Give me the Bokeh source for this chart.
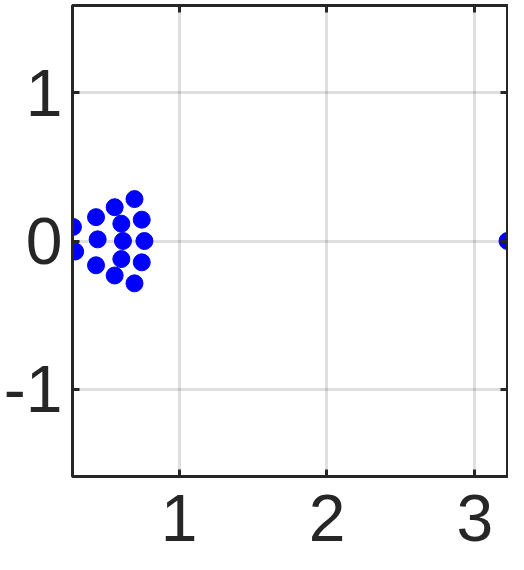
from bokeh.plotting import figure
from bokeh.models import ColumnDataSource, FixedTicker, LinearAxis, Range1d
from bokeh.embed import file_html
from bokeh.resources import INLINE

# eigenvalue-like points (real, imaginary)
re_vals = [0.283, 0.298, 0.439, 0.450, 0.439, 0.565, 0.610, 0.621, 0.610, 0.565,
           0.699, 0.748, 0.766, 0.748, 0.699, 3.22]
im_vals = [0.095, -0.071, 0.161, 0.011, -0.164, 0.228, 0.117, 0.0, -0.122, -0.233,
           0.283, 0.144, 0.0, -0.144, -0.286, 0.0]

x_ticks = [1, 2, 3]
y_ticks = [-1, 0, 1]
x_limits = (0.28, 3.22)
y_limits = (-1.59, 1.59)

AX = "#262626"
FONT = "Liberation Sans"
FS = "66px"

src = ColumnDataSource(dict(x=re_vals, y=im_vals))

p = figure(width=508, height=554, output_backend="svg", toolbar_location=None,
           x_range=Range1d(*x_limits), y_range=Range1d(*y_limits))
p.min_border_left = 0
p.min_border_right = 1
p.min_border_top = 5
p.min_border_bottom = 78
p.background_fill_color = "white"
p.border_fill_color = "white"
p.outline_line_color = AX
p.outline_line_width = 3

def style_axis(ax, labels=True):
    ax.axis_line_color = AX
    ax.axis_line_width = 3
    ax.major_tick_in = 7
    ax.major_tick_out = 0
    ax.major_tick_line_color = AX
    ax.major_tick_line_width = 3
    ax.minor_tick_line_color = None
    if labels:
        ax.major_label_text_font = FONT
        ax.major_label_text_font_size = FS
        ax.major_label_text_color = AX
        ax.major_label_standoff = 10
    else:
        ax.major_label_text_font_size = "1px"
        ax.major_label_text_color = None
        ax.major_label_standoff = 0

p.xaxis.ticker = FixedTicker(ticks=x_ticks)
p.yaxis.ticker = FixedTicker(ticks=y_ticks)
style_axis(p.xaxis[0])
style_axis(p.yaxis[0])
p.xaxis.major_label_standoff = 18
p.yaxis.major_label_overrides = {-1: "-1", 0: "0", 1: "1"}

xt = LinearAxis(ticker=FixedTicker(ticks=x_ticks)); style_axis(xt, False)
yr = LinearAxis(ticker=FixedTicker(ticks=y_ticks)); style_axis(yr, False)
p.add_layout(xt, "above")
p.add_layout(yr, "right")

for g in (p.xgrid[0], p.ygrid[0]):
    g.grid_line_color = AX
    g.grid_line_alpha = 0.15
    g.grid_line_width = 3
p.xgrid.ticker = FixedTicker(ticks=x_ticks)
p.ygrid.ticker = FixedTicker(ticks=y_ticks)

p.scatter("x", "y", source=src, size=17, fill_color="#0000ff", line_color="#0000ff")

open("out.html", "w").write(file_html(p, INLINE))
